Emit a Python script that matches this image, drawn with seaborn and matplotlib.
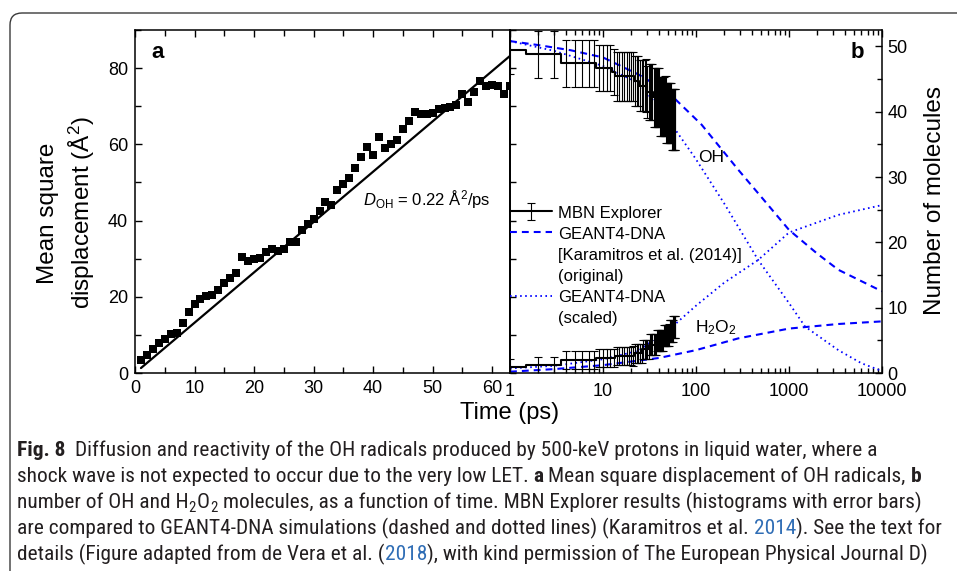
import numpy as np
import pandas as pd
import matplotlib
matplotlib.use("Agg")
import matplotlib.pyplot as plt
import seaborn as sns
from matplotlib import font_manager as fm
from matplotlib.patches import FancyBboxPatch
from matplotlib.lines import Line2D
from matplotlib.ticker import MultipleLocator, LogLocator, NullFormatter, FixedLocator, FixedFormatter

# ---------------- data: panel a (mean square displacement) ----------------
msd_t = [1, 2, 3, 4, 5, 6, 7, 8, 9, 10, 11, 12, 13, 14, 15, 16, 17, 18, 19, 20,
         21, 22, 23, 24, 25, 26, 27, 28, 29, 30, 31, 32, 33, 34, 35, 36, 37, 38, 39, 40,
         41, 42, 43, 44, 45, 46, 47, 48, 49, 50, 51, 52, 53, 54, 55, 56, 57, 58, 59, 60,
         61, 62, 63]
msd_vals = [3.4, 4.7, 6.3, 8.0, 8.8, 10.2, 10.5, 13.0, 16.0, 18.0,
            19.3, 20.2, 20.4, 21.7, 23.6, 25.0, 26.2, 30.4, 29.5, 29.9,
            30.3, 31.7, 32.6, 32.0, 32.6, 34.3, 34.3, 37.4, 39.1, 40.4,
            42.4, 45.0, 44.2, 48.1, 49.6, 51.1, 53.8, 56.6, 59.3, 57.2,
            61.8, 59.0, 60.2, 61.1, 64.0, 66.0, 68.5, 67.9, 67.9, 68.3,
            69.2, 69.6, 69.8, 70.3, 73.1, 71.0, 73.7, 76.6, 75.3, 75.5,
            75.3, 73.1, 75.3]
fit_t = [1.0, 63.0]
fit_msd = [1.3, 83.2]

# ---------------- data: panel b (number of molecules) ----------------
mbn_t = [1, 2, 3, 4, 5, 6, 7, 8, 9, 10, 11, 12, 13, 14, 15, 16, 17, 18, 19, 20,
         21, 22, 23, 24, 25, 26, 27, 28, 29, 30, 31, 32, 33, 34, 35, 36, 37, 38, 39, 40,
         41, 42, 43, 44, 45, 46, 47, 48, 49, 50, 51, 52, 53, 54, 55, 56, 57, 58, 59, 60]
mbn_oh = [49.4, 48.8, 48.8, 47.4, 47.4, 47.4, 47.4, 47.4, 46.7, 46.7,
          46.7, 46.7, 46.1, 45.4, 45.4, 45.4, 45.4, 45.4, 45.4, 45.4,
          45.4, 44.7, 44.7, 44.7, 44.0, 44.0, 44.0, 44.0, 44.0, 43.0,
          43.0, 43.0, 43.0, 43.0, 42.2, 42.2, 42.2, 42.2, 42.2, 42.2,
          40.8, 40.8, 40.8, 40.8, 40.8, 40.8, 40.8, 39.8, 39.8, 39.8,
          39.8, 39.8, 39.8, 39.8, 38.8, 38.8, 38.8, 38.8, 38.8, 38.8]
mbn_oh_err = [3.6, 3.6, 3.6, 3.6, 3.6, 3.6, 3.6, 3.6, 3.5, 3.5,
              3.5, 3.5, 3.5, 3.8, 3.8, 3.8, 3.8, 3.8, 3.8, 3.8,
              3.8, 3.8, 3.8, 3.8, 3.9, 3.9, 3.9, 3.9, 4.0, 4.0,
              4.3, 4.3, 4.3, 4.3, 4.5, 4.5, 4.5, 4.5, 4.5, 4.5,
              4.5, 4.5, 4.5, 4.5, 4.5, 4.6, 4.6, 4.6, 4.6, 4.6,
              4.6, 4.6, 4.6, 4.6, 4.6, 4.6, 4.6, 4.6, 4.6, 4.6]
mbn_h2o2 = [0.9, 1.2, 1.2, 2.0, 2.0, 2.0, 2.0, 2.0, 2.3, 2.3,
            2.3, 2.3, 2.3, 2.6, 2.6, 2.6, 2.6, 2.6, 2.6, 2.6,
            2.6, 3.0, 3.0, 3.0, 3.0, 3.0, 3.6, 3.6, 3.6, 3.6,
            3.6, 4.3, 4.3, 4.3, 4.3, 4.3, 4.3, 5.0, 5.0, 5.0,
            5.0, 5.0, 5.0, 5.0, 5.8, 5.8, 5.8, 5.8, 5.8, 5.8,
            5.8, 6.4, 6.4, 6.4, 6.4, 6.4, 7.0, 7.0, 7.0, 7.0]
mbn_h2o2_err = [1.2, 1.3, 1.3, 1.4, 1.4, 1.4, 1.4, 1.4, 1.4, 1.4,
                1.4, 1.4, 1.4, 1.4, 1.4, 1.4, 1.4, 1.4, 1.4, 1.4,
                1.5, 1.5, 1.5, 1.5, 1.5, 1.5, 1.5, 1.5, 1.5, 1.5,
                1.5, 1.6, 1.6, 1.6, 1.6, 1.6, 1.6, 1.6, 1.6, 1.6,
                1.6, 1.6, 1.6, 1.6, 1.6, 1.6, 1.6, 1.6, 1.6, 1.6,
                1.7, 1.7, 1.7, 1.7, 1.7, 1.7, 1.7, 1.7, 1.7, 1.7]

g4_oh_orig_t = [1, 2, 4.5, 10, 24, 36, 60, 115, 285, 550, 1000, 2000, 3390, 10000]
g4_oh_orig = [50.8, 50.2, 49.4, 48.3, 45.7, 44.2, 41.9, 38.0, 31.1, 26.3, 21.9, 18.3, 15.8, 12.5]
g4_h2o2_orig_t = [1, 3, 10, 40, 100, 285, 1000, 3390, 10000]
g4_h2o2_orig = [0.2, 0.6, 1.2, 2.3, 3.5, 5.3, 6.8, 7.5, 7.9]
g4_oh_scal_t = [1, 3, 10, 24, 42, 63, 98, 200, 466, 1000, 1490, 3390, 6000, 10000]
g4_oh_scal = [50.8, 49.3, 47.0, 44.4, 40.3, 36.8, 32.9, 26.0, 17.3, 10.7, 7.1, 3.5, 1.5, 0.3]
g4_h2o2_scal_t = [1, 3, 10, 24, 60, 100, 200, 466, 1000, 3390, 10000]
g4_h2o2_scal = [0.7, 1.1, 2.1, 3.4, 7.5, 10.3, 13.8, 17.3, 21.5, 24.2, 25.7]

x_ticks_b = [1, 10, 100, 1000, 10000]
x_labels_b = ["1", "10", "100", "1000", "10000"]

legend_labels = ["MBN Explorer", "GEANT4-DNA", "[Karamitros et al. (2014)]", "(original)",
                 "GEANT4-DNA", "(scaled)"]

caption_lines = [
    [("Fig. 8", "b"), ("  Diffusion and reactivity of the OH radicals produced by 500-keV protons in liquid water, where a", "n")],
    [("shock wave is not expected to occur due to the very low LET. ", "n"), ("a", "b"),
     (" Mean square displacement of OH radicals, ", "n"), ("b", "b")],
    [("number of OH and H", "n"), ("2", "sub"), ("O", "n"), ("2", "sub"),
     (" molecules, as a function of time. MBN Explorer results (histograms with error bars)", "n")],
    [("are compared to GEANT4-DNA simulations (dashed and dotted lines) (Karamitros et al. ", "n"),
     ("2014", "blue"), ("). See the text for", "n")],
    [("details (Figure adapted from de Vera et al. (", "n"), ("2018", "blue"),
     ("), with kind permission of The European Physical Journal D)", "n")],
]

# ---------------- style ----------------
sns.set_style("ticks")
plt.rcParams["font.family"] = ["Liberation Sans", "DejaVu Sans"]
plt.rcParams["mathtext.fontset"] = "custom"
plt.rcParams["mathtext.rm"] = "Liberation Sans"
plt.rcParams["mathtext.it"] = "Liberation Sans:italic"
plt.rcParams["mathtext.bf"] = "Liberation Sans:bold"
plt.rcParams["axes.edgecolor"] = "black"
plt.rcParams["xtick.color"] = "black"
plt.rcParams["ytick.color"] = "black"
plt.rcParams["text.color"] = "black"
plt.rcParams["axes.labelcolor"] = "black"
plt.rcParams["axes.linewidth"] = 1.1

W, H = 957, 571
fig = plt.figure(figsize=(W / 100, H / 100), dpi=100)
fig.patch.set_facecolor("white")


def fx(px):
    return px / W


def fy(py):
    return 1 - py / H


L, M, R, T, B = 135, 510, 882, 30, 373
axa = fig.add_axes([fx(L), fy(B), fx(M) - fx(L), fy(T) - fy(B)])
axb = fig.add_axes([fx(M), fy(B), fx(R) - fx(M), fy(T) - fy(B)])
axb.set_facecolor("none")
axa.set_facecolor("white")

# ---------------- panel a ----------------
df_msd = pd.DataFrame({"t": msd_t, "msd": msd_vals})
sns.scatterplot(data=df_msd, x="t", y="msd", ax=axa, marker="s", s=30, color="black",
                edgecolor="black", linewidth=0, zorder=3)
sns.lineplot(x=fit_t, y=fit_msd, ax=axa, color="black", lw=1.6, sort=False)
axa.set_xlim(0, 63)
axa.set_ylim(0, 90)
axa.set_xlabel("")
axa.set_ylabel("")
axa.xaxis.set_major_locator(MultipleLocator(10))
axa.xaxis.set_minor_locator(MultipleLocator(5))
axa.yaxis.set_major_locator(MultipleLocator(20))
axa.yaxis.set_minor_locator(MultipleLocator(10))
axa.tick_params(which="both", direction="in", top=True, bottom=True, left=True, right=False,
                labelsize=13, width=1.0, pad=5)
axa.tick_params(which="major", length=5)
axa.tick_params(which="minor", length=4)
sec = axa.secondary_yaxis("right")
sec.yaxis.set_major_locator(MultipleLocator(20))
sec.yaxis.set_minor_locator(MultipleLocator(10))
sec.tick_params(which="both", direction="out", labelright=False, length=4, width=1.0)

axa.text(0.045, 0.935, "a", transform=axa.transAxes, fontsize=16, fontweight="bold",
         ha="left", va="center")
axa.text(38.3, 45.5, r"$\mathit{D}_{\mathrm{OH}}$ = 0.22 Å$^2$/ps", fontsize=12,
         ha="left", va="center")

# ---------------- panel b ----------------
axb.set_xscale("log")
eb_oh = axb.errorbar(mbn_t, mbn_oh, yerr=mbn_oh_err, color="black", lw=1.5,
                     drawstyle="steps-mid", elinewidth=0.8, capsize=2.6, capthick=0.8,
                     ecolor="black", zorder=3)
axb.errorbar(mbn_t, mbn_h2o2, yerr=mbn_h2o2_err, color="black", lw=1.5,
             drawstyle="steps-mid", elinewidth=0.8, capsize=2.6, capthick=0.8,
             ecolor="black", zorder=3)

blue = "#0000ff"
sns.lineplot(x=g4_oh_orig_t, y=g4_oh_orig, ax=axb, color=blue, lw=1.5, sort=False)
ln_dash = axb.lines[-1]
ln_dash.set_dashes([3.3, 2.4])
sns.lineplot(x=g4_h2o2_orig_t, y=g4_h2o2_orig, ax=axb, color=blue, lw=1.5, sort=False)
axb.lines[-1].set_dashes([3.3, 2.4])
sns.lineplot(x=g4_oh_scal_t, y=g4_oh_scal, ax=axb, color=blue, lw=1.3, sort=False)
ln_dot = axb.lines[-1]
ln_dot.set_dashes([0.9, 1.9])
sns.lineplot(x=g4_h2o2_scal_t, y=g4_h2o2_scal, ax=axb, color=blue, lw=1.3, sort=False)
axb.lines[-1].set_dashes([0.9, 1.9])

axb.set_xlim(1, 10000)
axb.set_ylim(0, 52.5)
axb.set_xlabel("")
axb.set_ylabel("")
axb.xaxis.set_major_locator(FixedLocator(x_ticks_b))
axb.xaxis.set_major_formatter(FixedFormatter(x_labels_b))
axb.xaxis.set_minor_locator(LogLocator(base=10, subs=np.arange(2, 10)))
axb.xaxis.set_minor_formatter(NullFormatter())
axb.yaxis.set_major_locator(MultipleLocator(10))
axb.yaxis.set_minor_locator(MultipleLocator(5))
axb.yaxis.tick_right()
axb.tick_params(which="both", direction="in", top=True, bottom=True, left=False, right=True,
                labelleft=False, labelright=True, labelsize=13, width=1.0, pad=5)
axb.tick_params(axis="x", which="both", pad=7)
axb.tick_params(axis="y", which="both", pad=4)
axb.tick_params(which="major", length=5)
axb.tick_params(which="minor", length=3.5)

axb.text(145, 33, "OH", fontsize=12.5, ha="center", va="center")
axb.text(164, 6.9, "H$_2$O$_2$", fontsize=12.5, ha="center", va="center")
axb.text(0.935, 0.933, "b", transform=axb.transAxes, fontsize=16, fontweight="bold",
         ha="center", va="center")

blank = Line2D([], [], color="none", lw=0)
handles = [eb_oh, ln_dash, blank, blank, ln_dot, blank]
leg = axb.legend(handles, legend_labels, loc="upper left", bbox_to_anchor=(0.0, 0.49),
                 frameon=False, fontsize=12, handlelength=2.5, handletextpad=0.4,
                 borderpad=0, borderaxespad=0, labelspacing=0.33, handleheight=0.9)

# ---------------- axis labels ----------------
fig.text(fx(67), fy(213), "Mean square\ndisplacement (Å$^2$)", rotation=90, ha="center",
         va="center", multialignment="center", fontsize=17.5, linespacing=1.3)
fig.text(fx(935), fy(201), "Number of molecules", rotation=90, ha="center", va="center",
         fontsize=17.5)
fig.text(fx(510), fy(413), "Time (ps)", ha="center", va="center", fontsize=17)

# ---------------- border ----------------
border = FancyBboxPatch((10, -30), 980, 571 - 13 + 30, boxstyle="round,pad=0,rounding_size=12",
                        transform=None, fill=False, ec="#3a3a3a", lw=1.0)
fig.add_artist(border)

# ---------------- caption ----------------
avail = {f.name for f in fm.fontManager.ttflist}
cap_font = "Liberation Sans"
for cand in ["Liberation Sans Narrow", "Roboto Condensed", "Open Sans Condensed", "Liberation Sans"]:
    if cand in avail:
        cap_font = cand
        break

renderer = fig.canvas.get_renderer()


def text_width(s, size, weight="normal"):
    t = fig.text(0, 0, s, fontsize=size, family=cap_font, fontweight=weight)
    w = t.get_window_extent(renderer).width
    t.remove()
    return w


def layout_line(pieces, size, y_base=None, draw=False):
    x = 17.0
    for txt, sty in pieces:
        weight = "bold" if sty == "b" else "normal"
        fs = size * 0.7 if sty == "sub" else size
        sw = text_width("a a", fs, weight) - text_width("aa", fs, weight)
        nl = len(txt) - len(txt.lstrip(" "))
        nt = len(txt) - len(txt.rstrip(" "))
        core = txt.strip(" ")
        x += nl * sw
        w = text_width(core, fs, weight) if core else 0
        if draw and core:
            color = "#2f6db5" if sty == "blue" else "#231f20"
            yy = y_base + (size * 0.2 * 100 / 72 if sty == "sub" else 0)
            fig.text(x / W, 1 - yy / H, core, fontsize=fs, family=cap_font, fontweight=weight,
                     color=color, ha="left", va="baseline")
        x += w + nt * sw + (0.8 if sty == "sub" else 0.0)
    return x - 17.0


base = 12.0
wmax = max(layout_line(p, base) for p in caption_lines)
cap_size = base * 921.0 / wmax
baselines = [456, 482, 508, 534, 560]
for pieces, yb in zip(caption_lines, baselines):
    layout_line(pieces, cap_size, yb, draw=True)

fig.savefig("out.png", dpi=100)
